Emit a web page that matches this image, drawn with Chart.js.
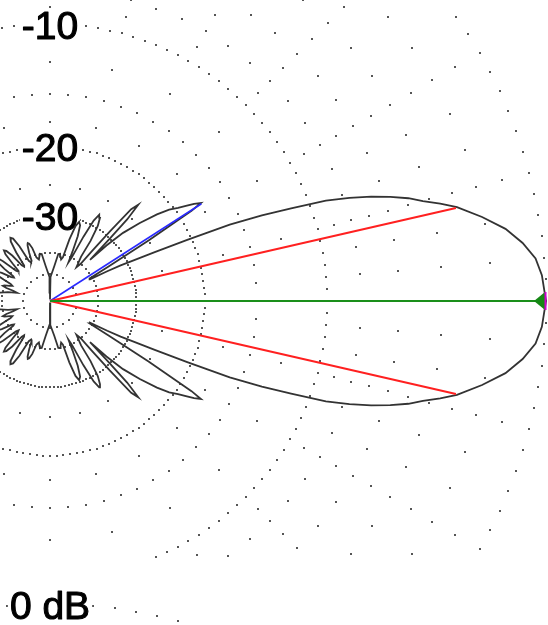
<!DOCTYPE html>
<html><head><meta charset="utf-8">
<script src="https://cdn.jsdelivr.net/npm/chart.js@4.4.1/dist/chart.umd.min.js"></script>
<style>html,body{margin:0;padding:0;background:#fff;overflow:hidden}#wrap{width:548px;height:625px;position:relative}canvas{display:block}</style>
</head><body><div id="wrap"><canvas id="c" width="548" height="625"></canvas></div>
<script>
// ---- data (azimuth pattern, upper half; lower half is its mirror) ----
const patternAnglesDeg = [0,3,5,7,9,11,13,14,15,16,17,18,19,20,21,22,23,24,25,26,26.8,27.5,28.5,29.5,30.5,31.5,32.5,33,34,35,36,37.5,39,41,43,44.5,45.8,46.2,46.6,47.5,48.5,49.3,50,50.5,52,55,56,57.5,59,60.3,61.5,62.5,63.5,64.5,65.5,66.8,68.3,69.8,71.2,72.5,73.5,75,76.5,78,80,83,88.8,89.6,90,90.4,91.2,97,100,102,103.5,105,107.3,108.5,110,111,112,113.3,114.6,116,117.8,119.2,120.6,122,123.4,124.8,126,127,128.3,129.7,131.1,132.3,133.6,135,136.2,137,138.3,139.7,141,142.2,143.4,144.8,146,147,148.3,149.8,151.2,152.5,153.8,155.2,156.5,158,159.5,161,162.2,163.4,164.5,166,168,170.7,172.5,175,177.5,180];
const patternGainDb   = [0,-0.12,-0.3,-0.7,-1.25,-2.05,-2.95,-3.6,-4.3,-4.9,-5.7,-6.6,-7.7,-9.0,-11.2,-13.3,-16.0,-20.5,-25,-29,-31.5,-35,-41,-41,-34,-25,-18.6,-17.4,-18,-18.8,-19.6,-20.5,-22,-24.5,-27.5,-31.5,-37,-30,-25.5,-22.9,-24,-29,-35,-40,-42,-38,-33,-29.5,-28,-27.6,-29,-33,-40,-42,-38,-33.5,-31,-30.4,-31.5,-35,-41,-42,-41,-40,-40.2,-45.5,-52,-70,-100,-70,-52,-45.5,-40.2,-40,-41,-42,-41,-37.5,-36,-35.7,-36.3,-38.5,-41.5,-42,-41,-35.5,-33,-32.5,-33.3,-36.5,-41.5,-42,-41,-36.5,-34.5,-34,-35,-38.5,-41.5,-42,-41,-35.8,-34,-33.6,-34.5,-37.5,-41.5,-42,-41,-37.5,-35.8,-35.5,-36.3,-39,-42,-43,-42,-40,-39.5,-41,-44,-46,-42,-39,-35,-28.5,-24,-22];
const gridRingsDb     = [0,-1,-2,-3,-4,-5,-6,-7,-8,-9,-10,-12.5,-15,-17.5,-20,-25,-30,-40,-50];
const gridRingStepDeg = [2.5,15,5,15,5,15,5,15,5,15,2.5,15,5,15,2.5,15,2.5,6,15];
const ringLabelDb   = [-10,-20,-30];
const ringLabelText = ['-10','-20','-30'];
const maxGainDeg = 0, maxGainDb = 0;
const halfPowerDeg = [12.9,-12.9], halfPowerDb = -3;
const sideLobeDeg = 32.7, sideLobeDb = -17.4;
const lowerPlotLabel = '0 dB';

// ---- layout ----
const R0 = 496;            // 0 dB radius (px units)
const CX = 50, CY = 301;   // plot centre in canvas px
const W = 548, H = 625;
const CLIP_Y = 558;        // lower edge of the upper plot panel
const LOWER_CY = 1100;     // centre of the next plot (below)

function rad(db){ return R0*Math.pow(0.89, -db/2); }
function pt(deg, db){ const r=rad(db), a=deg*Math.PI/180; return {x:r*Math.cos(a), y:r*Math.sin(a)}; }

const pattern = [];
for (let i=0;i<patternAnglesDeg.length;i++) pattern.push(pt(patternAnglesDeg[i], patternGainDb[i]));
for (let i=patternAnglesDeg.length-2;i>=0;i--) pattern.push(pt(-patternAnglesDeg[i], patternGainDb[i]));

const origin = {x:0,y:0};

const gridPlugin = {
  id:'grid',
  beforeDatasetsDraw(chart){
    const ctx=chart.ctx, xs=chart.scales.x, ys=chart.scales.y;
    ctx.save();
    ctx.fillStyle='#555';
    gridRingsDb.forEach((db,k)=>{
      const step=gridRingStepDeg[k];
      for(let a=0;a<360-1e-6;a+=step){
        const p=pt(a,db);
        const X=xs.getPixelForValue(p.x), Y=ys.getPixelForValue(p.y);
        if(Y>CLIP_Y) continue;
        ctx.fillRect(Math.round(X)-1,Math.round(Y)-1,2,2);
      }
    });
    const lowerOffset = (CY-LOWER_CY);
    for(let a=0;a<360-1e-6;a+=2.5){
      const p=pt(a,0);
      const X=xs.getPixelForValue(p.x), Y=ys.getPixelForValue(p.y+lowerOffset);
      if(Y<CLIP_Y+2||Y>H) continue;
      ctx.fillRect(Math.round(X)-1,Math.round(Y)-1,2,2);
    }
    ctx.font='39px "Liberation Sans", Arial, sans-serif';
    ctx.textAlign='center';
    ctx.textBaseline='alphabetic';
    ctx.lineJoin='round';
    const drawLabel=(txt,X,topY)=>{
      const w=ctx.measureText(txt).width;
      ctx.fillStyle='#fff';
      ctx.fillRect(X-w/2-2, topY-15, w+4, 31);
      ctx.fillStyle='#000';
      ctx.strokeStyle='#000';
      ctx.lineWidth=1.1;
      ctx.fillText(txt, X, topY+15);
      ctx.strokeText(txt, X, topY+15);
    };
    ringLabelDb.forEach((db,k)=>{
      const p=pt(90,db);
      drawLabel(ringLabelText[k], xs.getPixelForValue(0), ys.getPixelForValue(p.y));
    });
    const top2 = pt(90,0).y + lowerOffset;
    drawLabel(lowerPlotLabel, xs.getPixelForValue(0), ys.getPixelForValue(top2));
    ctx.restore();
  },
  afterDatasetsDraw(chart){
    const ctx=chart.ctx, xs=chart.scales.x, ys=chart.scales.y;
    const p=pt(maxGainDeg,maxGainDb);
    const X=xs.getPixelForValue(p.x), Y=ys.getPixelForValue(p.y);
    ctx.save();
    ctx.fillStyle='#158815';
    ctx.beginPath();
    ctx.moveTo(X-12,Y); ctx.lineTo(X-1,Y-9); ctx.lineTo(X-1,Y+9); ctx.closePath(); ctx.fill();
    ctx.fillStyle='#d000d0';
    ctx.fillRect(X-1.5,Y-9,2,18);
    ctx.restore();
  }
};

const line = (data,color,width,order)=>({data, showLine:true, borderColor:color, borderWidth:width, pointRadius:0, tension:0, fill:false, order});

new Chart(document.getElementById('c'),{
  type:'scatter',
  data:{datasets:[
    line([origin, pt(maxGainDeg,maxGainDb)], '#1a8f1a', 2.2, 1),
    line([origin, pt(halfPowerDeg[0],halfPowerDb)], '#ff2020', 2, 2),
    line([origin, pt(halfPowerDeg[1],halfPowerDb)], '#ff2020', 2, 2),
    line([origin, pt(sideLobeDeg,sideLobeDb)], '#2a2aff', 1.6, 2),
    line(pattern, '#333', 1.8, 5)
  ]},
  options:{
    responsive:false, animation:false, devicePixelRatio:1,
    layout:{padding:0},
    plugins:{legend:{display:false}, tooltip:{enabled:false}},
    scales:{
      x:{type:'linear', display:false, min:-CX, max:W-CX},
      y:{type:'linear', display:false, min:CY-H, max:CY}
    }
  },
  plugins:[gridPlugin]
});
</script>
</body></html>
